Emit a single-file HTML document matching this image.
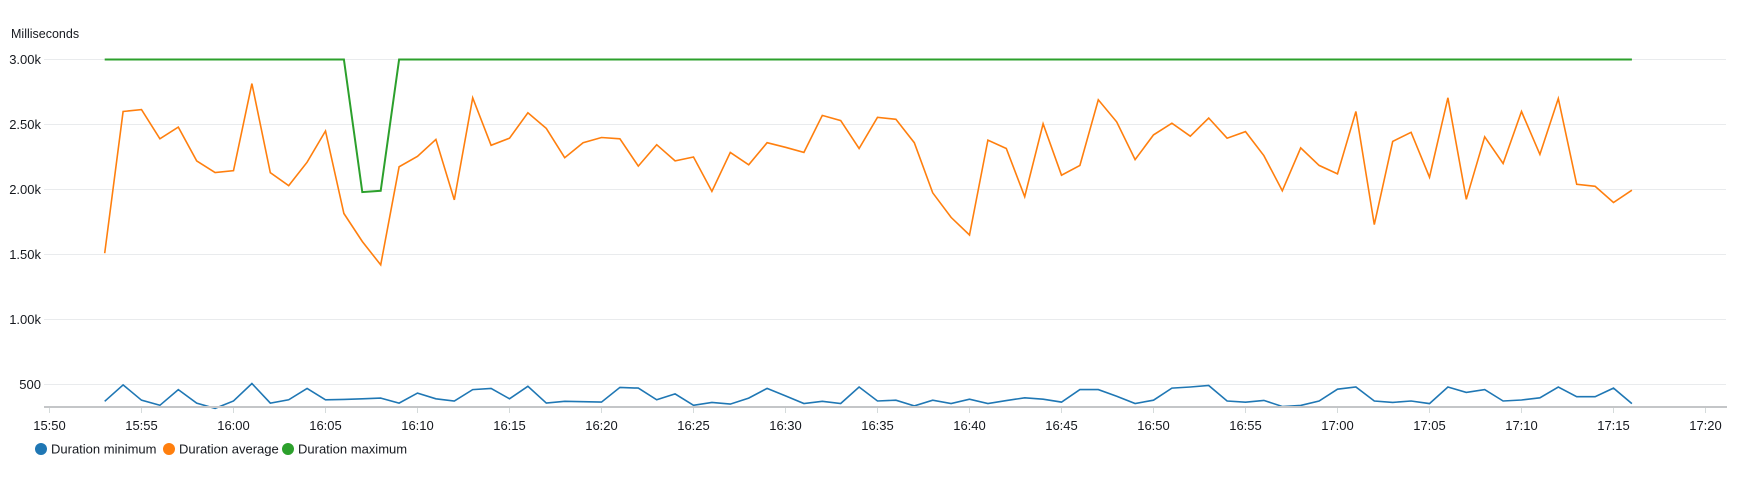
<!DOCTYPE html>
<html><head><meta charset="utf-8"><style>
body{margin:0;background:#fff;font-family:"Liberation Sans",sans-serif;}
svg text{font-family:"Liberation Sans",sans-serif;fill:#16191f;}
</style></head><body>
<svg width="1753" height="483" id="chart">
<text x="11" y="38" font-size="12.5" fill="#545b64">Milliseconds</text>
<g id="grid"></g><g id="series"></g><g id="xaxis"></g>
<g>
 <g><circle cx="41" cy="449" r="6" fill="#1f77b4"/><text x="51" y="453.5" font-size="13">Duration minimum</text></g>
 <g><circle cx="169" cy="449" r="6" fill="#ff7f0e"/><text x="179" y="453.5" font-size="13">Duration average</text></g>
 <g><circle cx="288" cy="449" r="6" fill="#2ca02c"/><text x="298" y="453.5" font-size="13">Duration maximum</text></g>
</g>
</svg>
<script>
const startMinute = 953; // 15:53 in minutes since 00:00
const minVals = [371,497,379,340,461,357,316,373,508,357,382,470,382,385,390,395,357,434,390,373,461,470,390,486,357,371,368,365,478,472,382,428,340,362,349,395,470,412,354,371,354,481,373,379,335,379,354,387,354,376,398,387,365,461,461,409,354,379,472,481,492,373,364,378,331,339,373,464,481,373,362,373,353,481,439,461,373,381,398,481,406,406,472,353];
const avgVals = [1510,2600,2615,2390,2480,2220,2130,2145,2815,2130,2030,2210,2450,1815,1600,1420,2175,2255,2385,1920,2705,2340,2395,2590,2470,2245,2360,2400,2390,2180,2345,2220,2250,1985,2285,2190,2360,2325,2285,2570,2530,2315,2555,2540,2360,1975,1785,1650,2380,2315,1945,2505,2110,2185,2690,2520,2230,2420,2510,2410,2550,2395,2445,2260,1990,2320,2185,2120,2600,1730,2370,2440,2095,2705,1925,2405,2200,2600,2270,2700,2040,2025,1900,1995];
const maxVals = [3000,3000,3000,3000,3000,3000,3000,3000,3000,3000,3000,3000,3000,3000,1980,1990,3000,3000,3000,3000,3000,3000,3000,3000,3000,3000,3000,3000,3000,3000,3000,3000,3000,3000,3000,3000,3000,3000,3000,3000,3000,3000,3000,3000,3000,3000,3000,3000,3000,3000,3000,3000,3000,3000,3000,3000,3000,3000,3000,3000,3000,3000,3000,3000,3000,3000,3000,3000,3000,3000,3000,3000,3000,3000,3000,3000,3000,3000,3000,3000,3000,3000,3000,3000];
const yTicks = [500,1000,1500,2000,2500,3000];
const yTickLabels = ["500","1.00k","1.50k","2.00k","2.50k","3.00k"];
const xTickMinutes = [950,955,960,965,970,975,980,985,990,995,1000,1005,1010,1015,1020,1025,1030,1035,1040];

const NS="http://www.w3.org/2000/svg";
function X(m){return 49.5+(m-950)*18.4;}
function Y(v){return 384.5-(v-500)*0.13;}
function mk(tag,attrs,parent){const e=document.createElementNS(NS,tag);for(const k in attrs)e.setAttribute(k,attrs[k]);parent.appendChild(e);return e;}
const grid=document.getElementById('grid'),ser=document.getElementById('series'),xa=document.getElementById('xaxis');
yTicks.forEach((v,i)=>{
 const l=mk('line',{x1:44,x2:1726,y1:Y(v),y2:Y(v),stroke:'#e9ebed','stroke-width':1},grid);
 
 
 const t=mk('text',{x:41,y:Y(v)+4.5,'text-anchor':'end','font-size':13},grid);
 t.textContent=yTickLabels[i];
 
 
});
const ax=mk('line',{x1:44,x2:1727,y1:407,y2:407,stroke:'#c4c6c8','stroke-width':2},xa);


xTickMinutes.forEach(m=>{
 const tk=mk('line',{x1:X(m),x2:X(m),y1:408,y2:413,stroke:'#d5dbdb','stroke-width':1},xa);
 
 
 const t=mk('text',{x:X(m),y:430,'text-anchor':'middle','font-size':13},xa);
 const h=Math.floor(m/60),mm=m%60;
 t.textContent=h+':'+(mm<10?'0':'')+mm;
 
 
});
function line(vals,color,w,name){
 const d=vals.map((v,i)=>(i?'L':'M')+X(startMinute+i).toFixed(1)+','+Y(v).toFixed(1)).join('');
 const p=mk('path',{d:d,fill:'none',stroke:color,'stroke-width':w,'stroke-linejoin':'miter'},ser);
 
 
}
line(maxVals,'#2ca02c',2,'series-duration-maximum');
line(avgVals,'#ff7f0e',1.6,'series-duration-average');
line(minVals,'#1f77b4',1.6,'series-duration-minimum');
</script>
</body></html>
